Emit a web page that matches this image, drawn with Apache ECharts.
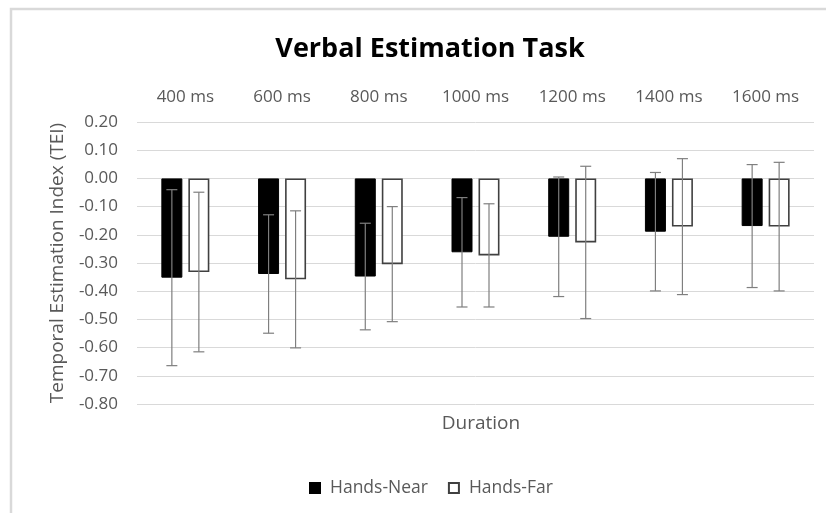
<!DOCTYPE html>
<html><head><meta charset="utf-8">
<script src="https://cdn.jsdelivr.net/npm/echarts@6/dist/echarts.min.js"></script>
<style>html,body{margin:0;padding:0;background:#fff}#c{width:826px;height:513px}</style>
</head><body><div id="c"></div>
<script>
var categories = ['400 ms','600 ms','800 ms','1000 ms','1200 ms','1400 ms','1600 ms'];
var nearMean = [-0.352,-0.339,-0.348,-0.262,-0.207,-0.189,-0.169];
var nearErr  = [0.312,0.210,0.189,0.194,0.212,0.210,0.218];
var farMean  = [-0.332,-0.358,-0.304,-0.273,-0.227,-0.171,-0.171];
var farErr   = [0.283,0.243,0.204,0.183,0.270,0.241,0.228];
var yTicks = {min:-0.8, max:0.2, interval:0.1};

var BW = 21, GAP = 6;
var font = '"Open Sans", "Noto Sans", sans-serif';
var chart = echarts.init(document.getElementById('c'), null, {renderer:'canvas'});

function errSeries(name, means, errs, side){
  var data = means.map(function(m,i){return [i, m - errs[i], m + errs[i]];});
  return {
    type:'custom', name: name + ' err', z: 10, silent:true,
    data: data,
    encode:{x:0, y:[1,2]},
    renderItem: function(params, api){
      var i = api.value(0);
      var lo = api.coord([i, api.value(1)]);
      var hi = api.coord([i, api.value(2)]);
      var x = lo[0] + side*(BW+GAP)/2;
      var cap = 5.5;
      var st = {stroke:'#7f7f7f', lineWidth:1.2};
      return {type:'group', children:[
        {type:'line', shape:{x1:x,y1:lo[1],x2:x,y2:hi[1]}, style:st},
        {type:'line', shape:{x1:x-cap,y1:lo[1],x2:x+cap,y2:lo[1]}, style:st},
        {type:'line', shape:{x1:x-cap,y1:hi[1],x2:x+cap,y2:hi[1]}, style:st}
      ]};
    }
  };
}

chart.setOption({
  animation:false,
  title:[{text:'Verbal Estimation Task', left:425, top:31, textAlign:'center',
    textStyle:{fontFamily:font, fontWeight:'bold', fontSize:27, color:'#000'}},
    {text:'Duration', left:476, top:409, textAlign:'center',
    textStyle:{fontFamily:font, fontWeight:'normal', fontSize:19, color:'#595959'}}],
  graphic:[{type:'rect', shape:{x:11, y:9, width:900, height:600},
    style:{fill:'none', stroke:'#d9d9d9', lineWidth:2.5}, silent:true}],
  legend:{data:['Hands-Near','Hands-Far'], left:304, top:474, itemWidth:10, itemHeight:10,
    itemGap:20, icon:'rect',
    textStyle:{fontFamily:font, fontSize:17.5, color:'#595959', padding:[0,0,0,5]}},
  grid:{left:137, right:12, top:122, bottom:109, containLabel:false, outerBoundsMode:'none'},
  xAxis:{type:'category', data:categories, position:'top',
    axisLine:{show:false}, axisTick:{show:false},
    axisLabel:{fontFamily:font, fontSize:17, color:'#595959', margin:16}},
  yAxis:{type:'value', min:yTicks.min, max:yTicks.max, interval:yTicks.interval,
    name:'Temporal Estimation Index (TEI)', nameLocation:'middle', nameGap:70, nameRotate:90,
    nameTextStyle:{fontFamily:font, fontSize:19, color:'#595959'},
    axisLine:{show:false}, axisTick:{show:false},
    axisLabel:{fontFamily:font, fontSize:17, color:'#595959', margin:19,
      formatter:function(v){return v.toFixed(2);}},
    splitLine:{lineStyle:{color:'#d9d9d9', width:1}}},
  series:[
    {name:'Hands-Near', type:'bar', data:nearMean, barWidth:BW, barGap:(GAP/BW*100)+'%',
      itemStyle:{color:'#000', borderColor:'#000', borderWidth:1}},
    {name:'Hands-Far', type:'bar', data:farMean, barWidth:BW,
      itemStyle:{color:'#fff', borderColor:'#404040', borderWidth:1.6}},
    errSeries('Hands-Near', nearMean, nearErr, -1),
    errSeries('Hands-Far', farMean, farErr, 1)
  ]
});
</script></body></html>
